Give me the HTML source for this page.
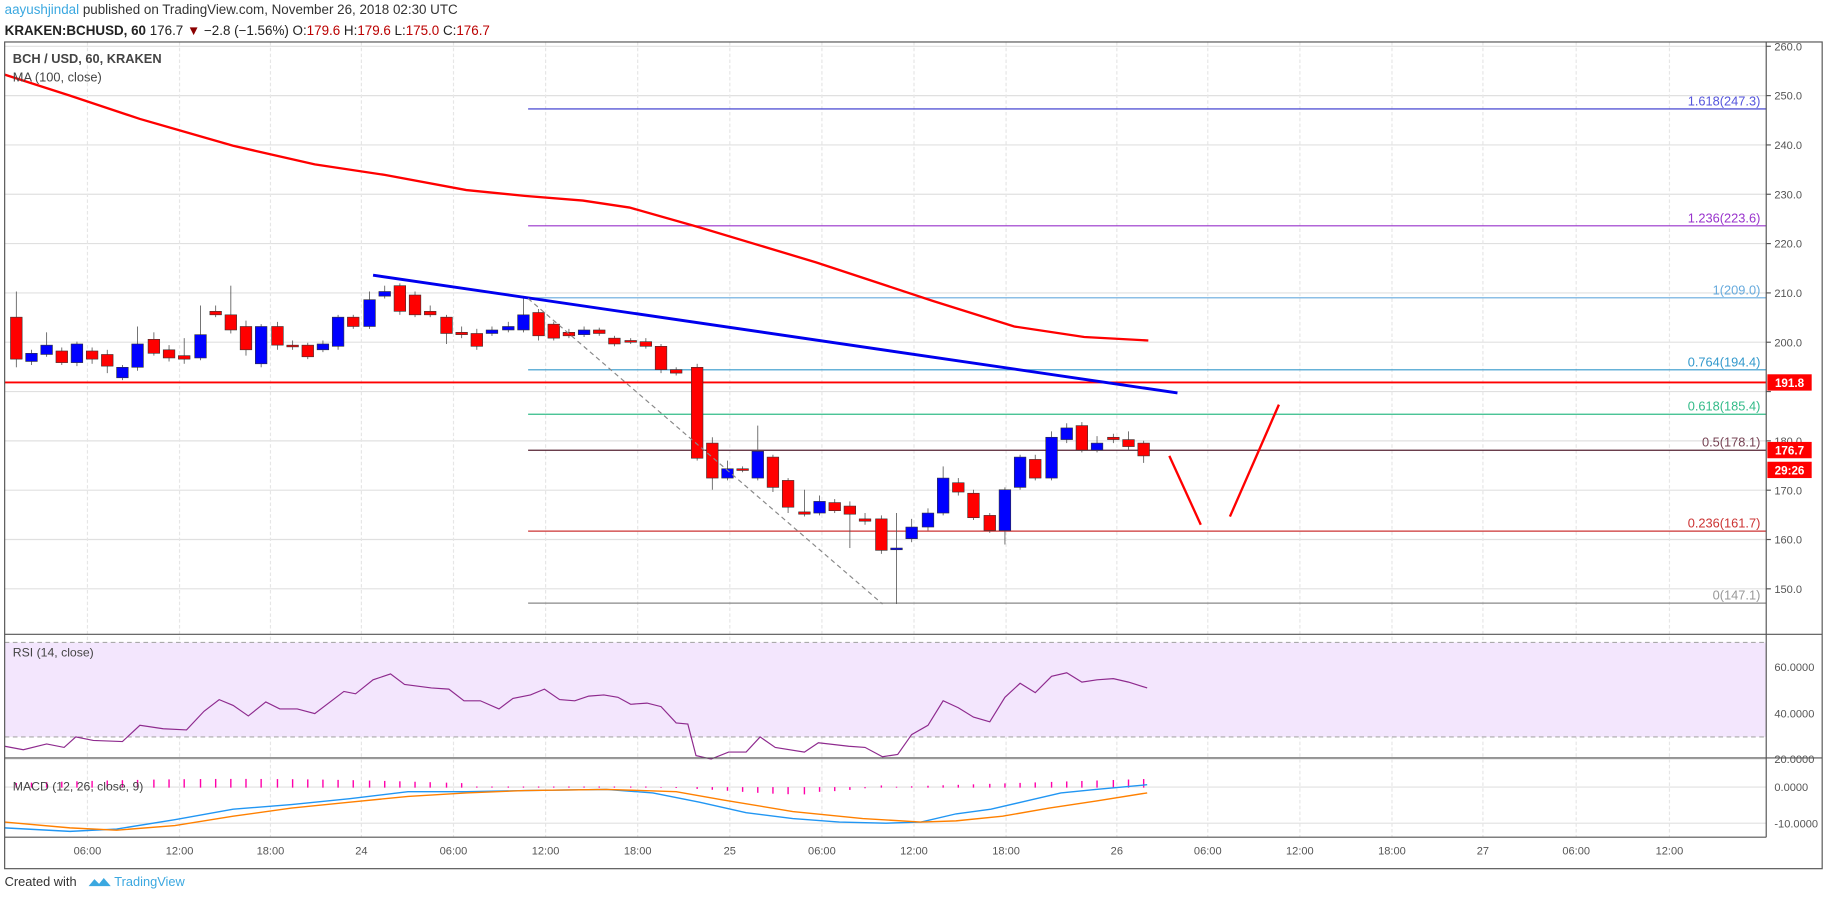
<!DOCTYPE html>
<html><head><meta charset="utf-8"><style>
html,body{margin:0;padding:0;background:#fff;width:1828px;height:899px;overflow:hidden}
svg{display:block;font-family:"Liberation Sans",sans-serif}
</style></head><body>
<svg id="s" width="1828" height="899" viewBox="0 0 1568 771" preserveAspectRatio="none">
<rect x="0" y="0" width="1568" height="771" fill="#fff"/>
<text x="4" y="12" font-size="11.5" fill="#333"><tspan fill="#3ba8e0">aayushjindal</tspan> published on TradingView.com, November 26, 2018 02:30 UTC</text>
<text x="4" y="30" font-size="11.5" fill="#222"><tspan font-weight="bold">KRAKEN:BCHUSD, 60</tspan> 176.7 <tspan fill="#8b0000">▼</tspan> −2.8 (−1.56%) O:<tspan fill="#b00">179.6</tspan> H:<tspan fill="#b00">179.6</tspan> L:<tspan fill="#b00">175.0</tspan> C:<tspan fill="#b00">176.7</tspan></text>
<g id="grid"></g>
<rect x="4" y="551" width="1511" height="81" fill="#f3e6fd"/>
<line x1="4" y1="551" x2="1515" y2="551" stroke="#aaa" stroke-dasharray="4,3"/>
<line x1="4" y1="632" x2="1515" y2="632" stroke="#aaa" stroke-dasharray="4,3"/>
<g id="main"></g>
<!-- frame -->
<rect x="4" y="36" width="1559" height="709" fill="none" stroke="#555"/>
<line x1="1515" y1="36" x2="1515" y2="718" stroke="#555"/>
<line x1="4" y1="544" x2="1563" y2="544" stroke="#555"/>
<line x1="4" y1="650" x2="1563" y2="650" stroke="#555"/>
<line x1="4" y1="718" x2="1515" y2="718" stroke="#555"/>
<text x="11" y="54" font-size="11" font-weight="bold" fill="#444">BCH / USD, 60, KRAKEN</text>
<text x="11" y="70" font-size="11" fill="#444">MA (100, close)</text>
<text x="11" y="563" font-size="10.5" fill="#444">RSI (14, close)</text>
<text x="11" y="678" font-size="10.5" fill="#444">MACD (12, 26, close, 9)</text>
<text x="4" y="760" font-size="11" fill="#333">Created with</text>
<path d="M76 760 l5 -6 l4 4 l4 -5 l6 7 z" fill="#3ba8e0"/>
<text x="98" y="760" font-size="11" fill="#3ba8e0">TradingView</text>
</svg>
<script>
const S=document.getElementById('s'),G=document.getElementById('grid'),M=document.getElementById('main');
const NS='http://www.w3.org/2000/svg';
function el(p,t,a,txt){const e=document.createElementNS(NS,t);for(const k in a)e.setAttribute(k,a[k]);if(txt!==undefined)e.textContent=txt;p.appendChild(e);return e;}
const py=p=>505-(p-150)*4.23;
// price grid & labels
for(let p=150;p<=260;p+=10){const y=py(p);el(G,'line',{x1:4,y1:y,x2:1515,y2:y,stroke:'#e0e0e0'});el(S,'line',{x1:1515,y1:y,x2:1519,y2:y,stroke:'#555'});if(p!=190)el(S,'text',{x:1522,y:y+3.5,'font-size':9.5,fill:'#555'},p.toFixed(1));}
el(S,'text',{x:1522,y:331.5,'font-size':9.5,fill:'#555'},'190.0');
[[60,572],[40,612],[20,651]].forEach(([v,y])=>{el(G,'line',{x1:4,y1:y,x2:1515,y2:y,stroke:'#e0e0e0'});el(S,'text',{x:1522,y:y+3.5,'font-size':9.5,fill:'#555'},v.toFixed(4));});
[['0.0000',675],['-10.0000',706]].forEach(([v,y])=>{el(G,'line',{x1:4,y1:y,x2:1515,y2:y,stroke:'#e0e0e0'});el(S,'text',{x:1522,y:y+3.5,'font-size':9.5,fill:'#555'},v);});
const tl=[[75,'06:00'],[154,'12:00'],[232,'18:00'],[310,'24'],[389,'06:00'],[468,'12:00'],[547,'18:00'],[626,'25'],[705,'06:00'],[784,'12:00'],[863,'18:00'],[958,'26'],[1036,'06:00'],[1115,'12:00'],[1194,'18:00'],[1272,'27'],[1352,'06:00'],[1432,'12:00']];
tl.forEach(([x,t])=>{el(G,'line',{x1:x,y1:36,x2:x,y2:718,stroke:'#e6e6e6','stroke-dasharray':'3,2'});el(S,'text',{x:x,y:733,'font-size':9.5,fill:'#555','text-anchor':'middle'},t);});
// fib lines
const fib=[['1.618(247.3)',247.3,'#3333cc','#5555dd'],['1.236(223.6)',223.6,'#9933cc','#9933cc'],['1(209.0)',209,'#66aadd','#66aadd'],['0.764(194.4)',194.4,'#3399cc','#3399cc'],['0.618(185.4)',185.4,'#33bb88','#33bb88'],['0.5(178.1)',178.1,'#552233','#774455'],['0.236(161.7)',161.7,'#cc3333','#cc3333'],['0(147.1)',147.1,'#888','#999']];
fib.forEach(([t,p,c,tc])=>{const y=py(p);el(M,'line',{x1:453,y1:y,x2:1515,y2:y,stroke:c,'stroke-width':1});el(M,'text',{x:1510,y:y-3,'font-size':11,fill:tc,'text-anchor':'end'},t);});
el(M,'line',{x1:4,y1:328,x2:1515,y2:328,stroke:'#f00','stroke-width':1.6});
// MA
el(M,'polyline',{points:'4,64 60,82 120,102 200,125 270,141 330,150 400,163 450,168 500,172 540,178 600,195 700,225 800,258 870,280 930,289 985,292',fill:'none',stroke:'#f00','stroke-width':2});
// candles
const C=[[14,272,308,250,315],[27,310,303,300,313],[40,304,296,285,306],[53,301,311,298,313],[66,311,295,293,314],[79,301,308,298,312],[92,304,314,300,320],[105,324,315,313,326],[118,315,295,280,318],[132,291,303,285,305],[145,300,307,296,310],[158,305,308,290,312],[172,307,287,262,309],[185,267,270,262,272],[198,270,283,245,286],[211,280,300,275,305],[224,312,280,278,315],[238,280,296,276,300],[251,296,297,292,300],[264,296,306,294,308],[277,300,295,292,302],[290,297,272,270,300],[303,272,280,270,282],[317,280,257,250,282],[330,254,250,245,256],[343,245,267,243,270],[356,253,270,250,272],[369,267,270,262,272],[383,272,286,270,295],[396,285,287,280,290],[409,286,297,282,300],[422,286,283,280,288],[436,283,280,276,285],[449,283,270,255,285],[462,268,288,265,292],[475,278,290,276,292],[488,285,288,282,290],[501,287,283,280,289],[514,283,286,281,288],[527,290,295,288,297],[541,292,293,290,295],[554,293,297,290,299],[567,297,317,295,320],[580,317,320,315,322],[598,315,393,312,395],[611,380,410,375,420],[624,410,402,395,412],[637,402,403,400,405],[650,410,387,365,412],[663,392,418,390,422],[676,412,435,410,440],[690,439,441,420,443],[703,440,430,425,442],[716,431,438,428,440],[729,434,441,430,470],[742,445,447,440,450],[756,445,472,442,475],[769,471,470,440,518],[782,462,452,445,465],[796,452,440,436,455],[809,440,410,400,442],[822,414,422,410,425],[835,423,444,420,446],[849,442,455,440,457],[862,455,420,418,467],[875,418,392,390,420],[888,394,410,390,412],[902,410,375,370,412],[915,377,367,363,380],[928,365,386,362,388],[941,386,380,374,388],[955,375,377,372,380],[968,377,383,370,386],[981,380,391,378,397]];
C.forEach(([x,o,c,h,l])=>{const up=c<o;const col=up?'#0000ff':'#ff0000';el(M,'line',{x1:x,y1:h,x2:x,y2:l,stroke:'#555','stroke-width':0.7});el(M,'rect',{x:x-5,y:Math.min(o,c),width:10,height:Math.max(1.5,Math.abs(o-c)),fill:col,stroke:'#333','stroke-width':0.5});});
// trend lines
el(M,'line',{x1:320,y1:236,x2:1010,y2:337,stroke:'#0000ee','stroke-width':2.5});
el(M,'line',{x1:453,y1:256,x2:757,y2:518,stroke:'#888','stroke-width':1,'stroke-dasharray':'4,3'});
el(M,'line',{x1:1003,y1:391,x2:1030,y2:450,stroke:'#f00','stroke-width':2});
el(M,'line',{x1:1055,y1:443,x2:1097,y2:347,stroke:'#f00','stroke-width':2});
// price tags
[[328,'191.8'],[386,'176.7'],[403,'29:26']].forEach(([y,t])=>{el(S,'rect',{x:1516,y:y-7,width:38,height:14,fill:'#f00'});el(S,'text',{x:1535,y:y+4,'font-size':10,'font-weight':'bold',fill:'#fff','text-anchor':'middle'},t);});
// RSI
el(M,'polyline',{points:'4,640 20,643 40,638 55,641 65,632 80,635 105,636 120,622 140,625 160,626 175,610 188,600 200,605 213,614 228,602 240,608 255,608 270,612 295,593 305,595 320,583 335,578 347,587 370,590 385,591 398,601 412,601 428,608 440,599 455,596 467,591 480,600 493,601 505,597 518,596 530,598 541,604 555,603 567,606 580,620 590,621 597,648 610,651 625,645 640,645 652,632 665,641 690,645 702,637 728,640 742,641 757,649 770,647 782,630 796,622 809,601 822,607 835,615 849,619 862,598 875,586 888,594 902,580 915,577 928,585 941,583 955,582 968,585 984,590',fill:'none',stroke:'#8e2a8e','stroke-width':1});
// MACD hist
C.forEach(([x],i)=>{let v;if(x<400)v=-(3+4*Math.sin(x/130));else if(x<560)v=-1;else if(x<760)v=(x-560)/200*10*Math.sin((x-560)/200*Math.PI)+ (x>700?-2:0);else v=-(x-760)/225*7;if(x<560&&x>=400)v=-0.5;el(M,'rect',{x:x-0.6,y:Math.min(675,675+v),width:1.2,height:Math.abs(v)+0.5,fill:'#ff00aa'});});
el(M,'polyline',{points:'4,710 60,713 100,711 150,703 200,694 250,690 300,685 350,679 400,679 450,678 520,677 560,680 600,688 640,697 680,702 720,705 760,706 790,705 820,698 850,694 880,687 910,680 940,677 984,673',fill:'none',stroke:'#2196f3','stroke-width':1.2});
el(M,'polyline',{points:'4,705 60,710 100,712 150,708 200,700 250,693 300,688 350,683 400,680 450,678 520,677 580,679 620,686 680,696 740,702 790,705 820,704 860,700 900,693 940,687 984,680',fill:'none',stroke:'#ff8000','stroke-width':1.2});
</script>
</body></html>
